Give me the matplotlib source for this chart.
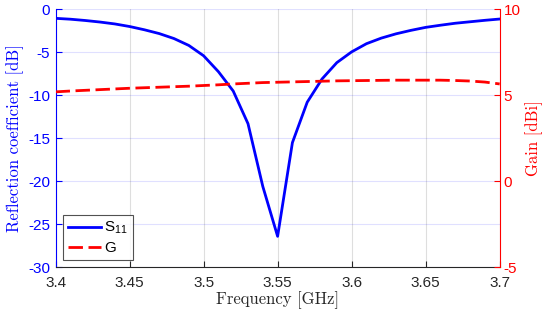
import numpy as np
import matplotlib
matplotlib.use('Agg')
import matplotlib.pyplot as plt

# ----- data -----
freq = np.round(np.arange(3.40, 3.7001, 0.01), 2)
s11 = [-1.05, -1.15, -1.3, -1.48, -1.7, -2.0, -2.38, -2.82, -3.4, -4.2,
       -5.4, -7.25, -9.5, -13.3, -20.6, -26.4, -15.5, -10.8, -8.1, -6.2,
       -4.95, -4.0, -3.35, -2.85, -2.45, -2.1, -1.85, -1.62, -1.45, -1.28,
       -1.13]
gain = [5.2, 5.25, 5.29, 5.33, 5.37, 5.41, 5.44, 5.47, 5.5, 5.53,
        5.57, 5.61, 5.66, 5.7, 5.74, 5.76, 5.78, 5.8, 5.82, 5.84,
        5.85, 5.86, 5.87, 5.88, 5.88, 5.88, 5.88, 5.86, 5.83, 5.77,
        5.66]
xticks = [3.4, 3.45, 3.5, 3.55, 3.6, 3.65, 3.7]
yticks_left = [-30, -25, -20, -15, -10, -5, 0]
yticks_right = [-5, 0, 5, 10]

tick_font = 'Liberation Sans'
label_font = 'cmr10'
gray = (0.15, 0.15, 0.15)

fig = plt.figure(figsize=(5.5, 3.21), dpi=100)
ax = fig.add_axes([0.101, 0.1673, 0.8075, 0.8037])
ax2 = ax.twinx()

l1, = ax.plot(freq, s11, color=(0, 0, 1), lw=2, label=r'$\mathregular{S_{11}}$')
l2, = ax2.plot(freq, gain, color=(1, 0, 0), lw=2, ls=(0, (5.2, 2)), label='G')

ax.set_xlim(3.4, 3.7)
ax.set_ylim(-30, 0)
ax2.set_ylim(-5, 10)
ax.set_xticks(xticks)
ax.set_xticklabels([f'{t:g}' for t in xticks], fontfamily=tick_font, fontsize=11, color=gray)
ax.set_yticks(yticks_left)
ax.set_yticklabels([str(t) for t in yticks_left], fontfamily=tick_font, fontsize=11, color=(0, 0, 1))
ax2.set_yticks(yticks_right)
ax2.set_yticklabels([str(t) for t in yticks_right], fontfamily=tick_font, fontsize=11, color=(1, 0, 0))

# grid: horizontal bluish, vertical gray
for y in yticks_left:
    ax.axhline(y, color=(0, 0, 1), alpha=0.12, lw=0.8, zorder=0)
for x in xticks:
    ax.axvline(x, color=gray, alpha=0.15, lw=0.8, zorder=0)

for a in (ax, ax2):
    a.spines['top'].set_visible(False)
    a.tick_params(direction='in', length=4, width=0.8)
ax.spines['left'].set_color((0, 0, 1))
ax.spines['bottom'].set_color(gray)
ax.spines['right'].set_visible(False)
ax2.spines['left'].set_visible(False)
ax2.spines['bottom'].set_visible(False)
ax2.spines['right'].set_color((1, 0, 0))
ax.tick_params(axis='y', colors=(0, 0, 1), pad=4)
ax.tick_params(axis='x', colors=gray, pad=6)
ax2.tick_params(axis='y', colors=(1, 0, 0), pad=3)

ax.set_xlabel('Frequency [GHz]', fontfamily=label_font, fontsize=12, color=gray, labelpad=1)
ax.set_ylabel('Reflection coefficient [dB]', fontfamily=label_font, fontsize=12, color=(0, 0, 1), labelpad=3)
ax2.set_ylabel('Gain [dBi]', fontfamily=label_font, fontsize=12, color=(1, 0, 0), labelpad=3)

leg = ax2.legend([l1, l2], [l1.get_label(), 'G'], loc='lower left',
                 bbox_to_anchor=(0.017, 0.03), prop={'family': tick_font, 'size': 11},
                 fancybox=False, edgecolor=gray, handlelength=2.2, handletextpad=0.2,
                 borderpad=0.3, labelspacing=0.3, borderaxespad=0)
leg.get_frame().set_linewidth(0.8)

fig.savefig('out.png', dpi=100)
